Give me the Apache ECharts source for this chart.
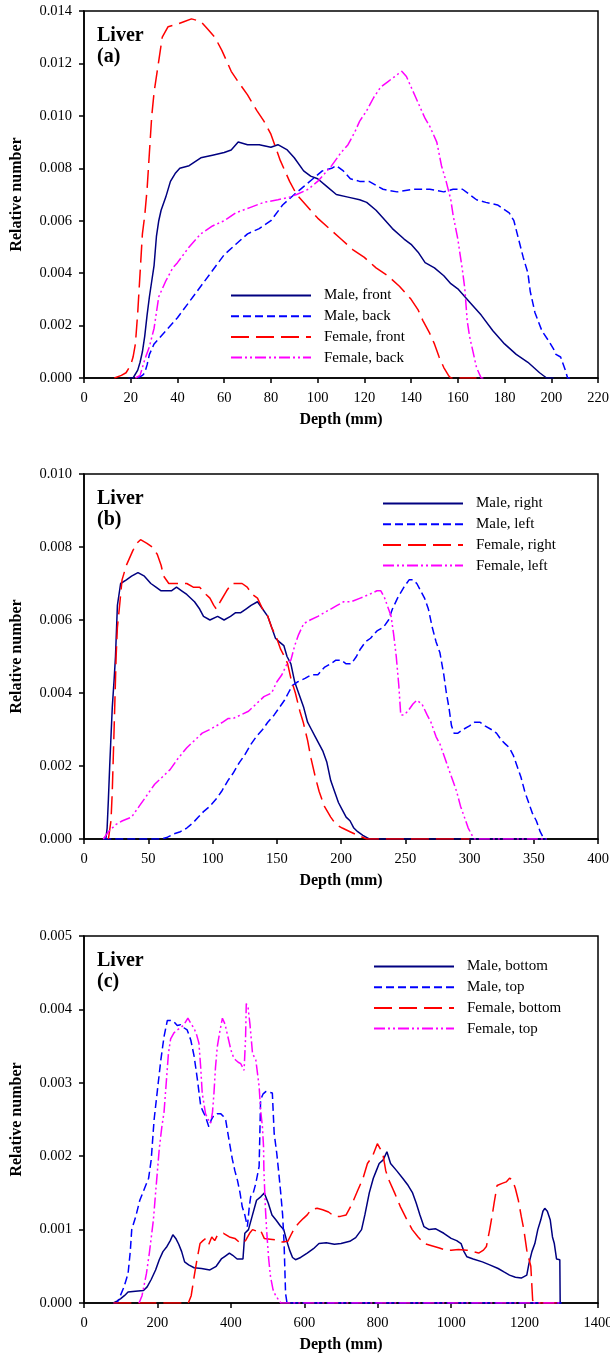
<!DOCTYPE html>
<html>
<head>
<meta charset="utf-8">
<script src="https://cdn.jsdelivr.net/npm/echarts@6/dist/echarts.min.js"></script>
<style>
  html, body { margin: 0; padding: 0; background: #fff; }
  #main { width: 610px; height: 1358px; }
</style>
</head>
<body>
<div id="main"></div>
<script>
// panel (a): front / back, depth in mm
const maleFrontA = [[19,0],[21,0],[23,0.0003],[24,0.0006],[25,0.001],[26,0.0016],[27,0.0024],[28,0.0031],[29,0.0037],[30,0.0043],[31,0.0054],[32,0.006],[33,0.0064],[35,0.0069],[37,0.0075],[39,0.0078],[41,0.008],[45,0.0081],[50,0.0084],[55,0.0085],[60,0.0086],[63,0.0087],[66,0.009],[70,0.0089],[75,0.0089],[80,0.0088],[83,0.0089],[87,0.0087],[90,0.0084],[94,0.0079],[97,0.0077],[100,0.0076],[104,0.0073],[108,0.007],[113,0.0069],[118,0.0068],[121,0.0067],[125,0.0064],[128,0.0061],[132,0.0057],[137,0.0053],[140,0.0051],[143,0.0048],[146,0.0044],[150,0.0042],[154,0.0039],[157,0.0036],[160,0.0034],[165,0.0029],[170,0.0024],[175,0.0018],[180,0.0013],[185,0.0009],[190,0.0006],[195,0.0002],[198,0],[201,0]];
const maleBackA = [[23,0],[25,0.0001],[26,0.0002],[27,0.0005],[28,0.0009],[30,0.0013],[35,0.0018],[40,0.0023],[45,0.0029],[50,0.0035],[55,0.0041],[60,0.0047],[65,0.0051],[70,0.0055],[75,0.0057],[80,0.006],[85,0.0066],[90,0.007],[94,0.0073],[98,0.0076],[102,0.0079],[106,0.008],[108,0.0081],[111,0.0079],[114,0.0076],[118,0.0075],[122,0.0075],[128,0.0072],[134,0.0071],[141,0.0072],[148,0.0072],[154,0.0071],[158,0.0072],[162,0.0072],[168,0.0068],[172,0.0067],[177,0.0066],[182,0.0063],[184,0.006],[186,0.0053],[188,0.0046],[190,0.004],[191,0.0033],[193,0.0025],[196,0.0018],[199,0.0014],[201,0.0011],[202,0.0009],[204,0.0008],[206,0.0003],[207,0],[208,0]];
const femaleFrontA = [[13,0],[16,0.0001],[18,0.0002],[20,0.0005],[21,0.0008],[22,0.0013],[23,0.0025],[24,0.004],[25,0.0055],[26,0.0062],[27,0.0072],[28,0.0086],[29,0.01],[30,0.0109],[32,0.0121],[33.5,0.013],[36,0.0134],[40,0.0135],[43,0.0136],[46,0.0137],[50,0.0136],[53,0.0133],[56,0.013],[59,0.0125],[63,0.0117],[66,0.0113],[70,0.0108],[74,0.0102],[77,0.0098],[80,0.0093],[82,0.0088],[84,0.0083],[86,0.0079],[88,0.0075],[91,0.007],[95,0.0066],[100,0.0061],[105,0.0057],[110,0.0053],[115,0.0049],[120,0.0046],[125,0.0042],[130,0.0039],[135,0.0035],[140,0.003],[143,0.0026],[145,0.0022],[148,0.0017],[150,0.0013],[152,0.0008],[154,0.0004],[156,0.0001],[157,0],[168,0]];
const femaleBackA = [[22,0],[24,0.0001],[26,0.0007],[28,0.0012],[30,0.0019],[32,0.0031],[35,0.0037],[38,0.0042],[40,0.0044],[45,0.005],[50,0.0055],[55,0.0058],[60,0.006],[65,0.0063],[71,0.0065],[77,0.0067],[83,0.0068],[88,0.0069],[91,0.007],[96,0.0072],[100,0.0075],[103,0.0078],[106,0.0081],[110,0.0086],[113,0.0089],[116,0.0094],[118,0.0098],[121,0.0102],[124,0.0107],[127,0.0111],[130,0.0113],[133,0.0115],[136,0.0117],[138,0.0115],[140,0.0111],[142,0.0107],[144,0.0103],[146,0.0099],[148,0.0096],[151,0.009],[153,0.0081],[155,0.0075],[157,0.0068],[158,0.0062],[160,0.0053],[161,0.0047],[162,0.0041],[163,0.0034],[164,0.0022],[165,0.0016],[166,0.0012],[168,0.0004],[170,0],[171,0]];

// panel (b): right / left
const maleRightB = [[17,0],[18,0.0003],[19,0.0011],[20,0.002],[21,0.0028],[22,0.0036],[23.5,0.0044],[24.5,0.005],[26,0.0064],[28.5,0.007],[33,0.0071],[37,0.0072],[42,0.0073],[47,0.0072],[52,0.007],[56,0.0069],[60,0.0068],[64,0.0068],[68,0.0068],[72,0.0069],[76,0.0068],[80,0.0067],[86,0.0065],[90,0.0063],[93,0.0061],[98,0.006],[104,0.0061],[109,0.006],[114,0.0061],[118,0.0062],[122,0.0062],[126,0.0063],[130,0.0064],[135,0.0065],[139,0.0063],[143,0.0061],[146,0.0058],[149,0.0055],[152,0.0054],[155.5,0.0053],[158,0.005],[161,0.0048],[164,0.0043],[167,0.004],[171,0.0036],[174,0.0032],[177,0.003],[180,0.0028],[183,0.0026],[186,0.0024],[189,0.0021],[192,0.0016],[195,0.0013],[198,0.001],[201,0.0008],[204,0.0006],[207,0.0005],[210,0.0003],[213,0.0002],[217,0.0001],[222,0],[360,0]];
const maleLeftB = [[15,0],[60,0],[65,0.00005],[70,0.00014],[75,0.0002],[80,0.0003],[85,0.00045],[89,0.0006],[93,0.00075],[98,0.0009],[103,0.0011],[107,0.0013],[112,0.0016],[116,0.0018],[121,0.0021],[125,0.0023],[130,0.0026],[134,0.0028],[139,0.003],[143,0.0032],[148,0.0034],[152,0.0036],[156,0.0038],[159,0.004],[162,0.0042],[166,0.0043],[172,0.0044],[177,0.0045],[182,0.0045],[187,0.0047],[192,0.0048],[196,0.0049],[200,0.0049],[204,0.0048],[208,0.0048],[212,0.005],[215,0.0052],[219,0.0054],[223,0.0055],[228,0.0057],[233,0.0058],[237,0.006],[240,0.0063],[244,0.0066],[249,0.0069],[253,0.0071],[256,0.0071],[259,0.007],[262,0.0068],[265,0.0066],[268,0.0063],[271,0.0058],[274,0.0054],[277,0.0051],[280,0.0045],[282,0.004],[284,0.0036],[286,0.0031],[288,0.0029],[291,0.0029],[295,0.003],[300,0.0031],[304,0.0032],[308,0.0032],[312,0.0031],[317,0.003],[321,0.0029],[325,0.0027],[328,0.0026],[331,0.0025],[334,0.0023],[337,0.002],[340,0.0017],[343,0.0013],[346,0.001],[349,0.0007],[352,0.0005],[355,0.0002],[358,0],[360,0]];
const femaleRightB = [[19,0],[21,0.0005],[22,0.0013],[23.5,0.0031],[25,0.005],[26,0.0058],[28,0.0065],[29.6,0.0071],[33,0.0075],[38,0.0079],[41,0.0081],[44,0.0082],[49,0.0081],[53,0.008],[57,0.0078],[60,0.0075],[62,0.0072],[66,0.007],[70,0.007],[75,0.007],[80,0.007],[85,0.0069],[90,0.0069],[95,0.0067],[98,0.0066],[101,0.0064],[103,0.0063],[106,0.0065],[111,0.0068],[115,0.007],[119,0.007],[123,0.007],[127,0.0069],[131,0.0067],[135,0.0066],[139,0.0063],[142,0.0062],[146,0.0058],[150,0.0055],[153,0.0052],[156,0.005],[158.5,0.0048],[161,0.0044],[164.5,0.004],[168,0.0035],[170.6,0.0032],[174,0.0027],[176.7,0.0022],[180,0.0017],[183,0.0013],[187,0.0009],[192,0.0006],[196,0.0004],[201,0.0003],[207,0.0002],[213,0.0001],[220,0],[300,0]];
const femaleLeftB = [[15,0],[17,0.0001],[19,0.0002],[22,0.0003],[25,0.0004],[30,0.0005],[37,0.0006],[43,0.0009],[49,0.0012],[55,0.0015],[61,0.0017],[67,0.0019],[73,0.0022],[80,0.0025],[86,0.0027],[92,0.0029],[98,0.003],[103,0.0031],[108,0.0032],[112,0.0033],[116,0.0033],[122,0.0034],[128,0.0035],[134,0.0037],[140,0.0039],[146,0.004],[150,0.0043],[154,0.0045],[158,0.0048],[161,0.0049],[164,0.0053],[167,0.0056],[171,0.0059],[176,0.006],[182,0.0061],[187,0.0062],[192,0.0063],[197,0.0064],[202,0.0065],[208,0.0065],[215,0.0066],[222,0.0067],[228,0.0068],[231,0.0068],[234,0.0066],[237,0.0063],[239,0.0061],[241,0.0056],[243,0.005],[245,0.0042],[246.5,0.0034],[249,0.0034],[252,0.0035],[256,0.0037],[259,0.0038],[263,0.0037],[267,0.0034],[270,0.0032],[274,0.0028],[277,0.0026],[280,0.0023],[284,0.0019],[287,0.0016],[290,0.0013],[293,0.0009],[296,0.0006],[299,0.0003],[302,0.0001],[304,0],[360,0]];

// panel (c): bottom / top
const maleBottomC = [[80,0],[88,0.00002],[100,0.00006],[110,0.0001],[120,0.00015],[140,0.00016],[162,0.00017],[172,0.00022],[183,0.00032],[195,0.00045],[205,0.00059],[215,0.0007],[226,0.00077],[235,0.00085],[242,0.00093],[250,0.00088],[258,0.0008],[266,0.0007],[274,0.00056],[285,0.00052],[300,0.00048],[320,0.00047],[343,0.00045],[360,0.0005],[374,0.0006],[385,0.00064],[396,0.00068],[405,0.00065],[417,0.0006],[433,0.0006],[438,0.00095],[448,0.001],[459,0.0012],[470,0.0014],[482,0.00145],[491,0.0015],[502,0.00136],[512,0.0012],[523,0.00113],[535,0.00105],[544,0.001],[552,0.00085],[560,0.00072],[568,0.00062],[576,0.00059],[590,0.00062],[608,0.00068],[625,0.00074],[640,0.00081],[660,0.00082],[682,0.0008],[700,0.00081],[724,0.00084],[740,0.00089],[756,0.001],[765,0.0012],[777,0.0015],[788,0.0017],[796,0.0018],[804,0.0019],[815,0.00195],[825,0.00206],[835,0.0019],[852,0.0018],[868,0.0017],[883,0.0016],[895,0.0015],[905,0.00136],[915,0.0012],[926,0.00104],[940,0.001],[958,0.00101],[980,0.00095],[1000,0.00088],[1015,0.00085],[1027,0.00081],[1035,0.0007],[1043,0.00063],[1060,0.0006],[1085,0.00056],[1105,0.00052],[1128,0.00047],[1145,0.00042],[1159,0.00038],[1175,0.00035],[1191,0.00034],[1206,0.00038],[1212,0.00054],[1220,0.0007],[1228,0.00081],[1236,0.001],[1244,0.00113],[1250,0.00125],[1255,0.00129],[1262,0.00125],[1270,0.00113],[1276,0.0009],[1281,0.00081],[1287,0.0006],[1292,0.00059],[1296,0.00059],[1297,0],[1302,0]];
const maleTopC = [[80,0],[90,0],[99,0.0001],[109,0.00022],[120,0.0004],[126,0.0007],[130,0.001],[141,0.00118],[152,0.0014],[160,0.0015],[168,0.0016],[176,0.0017],[183,0.00195],[191,0.0025],[200,0.0029],[209,0.0033],[218,0.00363],[227,0.00385],[236,0.00385],[245,0.00383],[254,0.00378],[263,0.00379],[272,0.00375],[281,0.00372],[286,0.00365],[291,0.00358],[300,0.00336],[309,0.00304],[318,0.00268],[325,0.0026],[331,0.00254],[340,0.0024],[347,0.0025],[354,0.00256],[363,0.00258],[372,0.00258],[380,0.00254],[386,0.00249],[395,0.00222],[404,0.00196],[411,0.0018],[418,0.00167],[425,0.0015],[431,0.00131],[438,0.0012],[445,0.00104],[450,0.0013],[454,0.00145],[461,0.0015],[468,0.00163],[477,0.00186],[481,0.00277],[488,0.00285],[495,0.00288],[505,0.00287],[513,0.00286],[518,0.00231],[525,0.00204],[531,0.00175],[536,0.00149],[541,0.0012],[545,0.00081],[549,0.00013],[553,0],[1300,0]];
const femaleBottomC = [[80,0],[284,0],[292,0.0001],[300,0.00036],[308,0.0006],[316,0.00081],[324,0.00085],[332,0.00088],[340,0.0008],[348,0.0009],[356,0.00085],[364,0.00093],[380,0.00095],[396,0.0009],[411,0.00088],[427,0.00081],[440,0.00085],[451,0.00095],[459,0.001],[470,0.00098],[480,0.001],[491,0.00088],[507,0.00087],[523,0.00086],[540,0.00083],[555,0.00084],[566,0.00095],[576,0.00104],[587,0.0011],[597,0.00115],[608,0.0012],[618,0.00127],[635,0.00129],[650,0.00127],[666,0.00124],[682,0.00118],[698,0.00118],[714,0.0012],[730,0.00135],[746,0.00154],[760,0.0017],[772,0.0019],[786,0.002],[799,0.00217],[807,0.0021],[815,0.002],[822,0.0018],[830,0.00168],[846,0.0015],[862,0.00131],[878,0.00115],[894,0.001],[910,0.0009],[926,0.00081],[947,0.00078],[968,0.00075],[985,0.00072],[1000,0.00072],[1020,0.00073],[1043,0.00072],[1060,0.0007],[1075,0.00068],[1088,0.00072],[1096,0.00077],[1105,0.001],[1112,0.0012],[1117,0.00136],[1125,0.0016],[1139,0.00163],[1150,0.00165],[1159,0.0017],[1167,0.00168],[1175,0.00156],[1183,0.0014],[1191,0.00118],[1198,0.001],[1206,0.00072],[1212,0.0006],[1217,0.0005],[1222,0.00004],[1226,0],[1300,0]];
const femaleTopC = [[150,0],[158,0.0001],[162,0.0002],[170,0.0004],[178,0.00068],[189,0.00113],[195,0.0015],[200,0.0018],[205,0.0021],[212,0.0024],[218,0.0026],[224,0.003],[230,0.0034],[236,0.0036],[245,0.00368],[254,0.00372],[263,0.00375],[272,0.00379],[283,0.00388],[292,0.0038],[300,0.00374],[307,0.00365],[313,0.00354],[318,0.0032],[322,0.00286],[331,0.00258],[338,0.0025],[345,0.00245],[350,0.0026],[354,0.00286],[358,0.0032],[363,0.00349],[370,0.0037],[377,0.00388],[384,0.0038],[390,0.00367],[400,0.00345],[407,0.00335],[413,0.00331],[420,0.00328],[427,0.00326],[436,0.00317],[440,0.0036],[442,0.00408],[447,0.00402],[452,0.0038],[459,0.0034],[468,0.00331],[477,0.00295],[481,0.00263],[486,0.0024],[489,0.00213],[490,0.00181],[494,0.0013],[498,0.00095],[503,0.0006],[508,0.00036],[515,0.00018],[522,0.0001],[536,0],[1300,0]];

const namesA = ['Male, front', 'Male, back', 'Female, front', 'Female, back'];
const namesB = ['Male, right', 'Male, left', 'Female, right', 'Female, left'];
const namesC = ['Male, bottom', 'Male, top', 'Female, bottom', 'Female, top'];
const panelLabels = ['(a)', '(b)', '(c)'];
const xMax = [220, 400, 1400];
const xStep = [20, 50, 200];
const yMax = [0.014, 0.010, 0.005];
const yStep = [0.002, 0.002, 0.001];

(() => {
  let myChart = echarts.init(document.getElementById('main'));

  const serif = 'Liberation Serif, Times New Roman, serif';
  const tops = [11, 474, 936];
  const heights = [367, 365, 367];

  // line look per curve: male solid/short dash, female long dash/dash-dot-dot
  const styles = [
    { color: '#000080', type: 'solid' },
    { color: '#0000ff', type: [8, 4] },
    { color: '#ff0000', type: [18, 7] },
    { color: '#ff00ff', type: [11, 3, 2, 3, 2, 3] }
  ];

  const panels = [
    { names: namesA, data: [maleFrontA, maleBackA, femaleFrontA, femaleBackA] },
    { names: namesB, data: [maleRightB, maleLeftB, femaleRightB, femaleLeftB] },
    { names: namesC, data: [maleBottomC, maleTopC, femaleBottomC, femaleTopC] }
  ];

  const grid = tops.map((t, i) => ({
    left: 84, top: t, width: 514, height: heights[i],
    outerBoundsMode: 'none',
    show: true, borderColor: '#000', borderWidth: 1.5, backgroundColor: 'transparent'
  }));

  const xAxis = tops.map((t, i) => ({
    type: 'value', gridIndex: i, min: 0, max: xMax[i], interval: xStep[i],
    name: 'Depth (mm)', nameLocation: 'middle', nameGap: 34,
    nameTextStyle: { fontFamily: serif, fontWeight: 'bold', fontSize: 16, color: '#000' },
    axisLine: { lineStyle: { color: '#000', width: 1.5 } },
    axisTick: { inside: false, length: 5, lineStyle: { color: '#000', width: 1.5 } },
    axisLabel: { fontFamily: serif, fontSize: 14.5, color: '#000', margin: 13,
      formatter: v => String(v) },
    splitLine: { show: false }
  }));

  const yAxis = tops.map((t, i) => ({
    type: 'value', gridIndex: i, min: 0, max: yMax[i], interval: yStep[i],
    name: 'Relative number', nameLocation: 'middle', nameGap: 59,
    nameTextStyle: { fontFamily: serif, fontWeight: 'bold', fontSize: 16, color: '#000' },
    axisLine: { lineStyle: { color: '#000', width: 1.5 } },
    axisTick: { inside: false, length: 5, lineStyle: { color: '#000', width: 1.5 } },
    axisLabel: { fontFamily: serif, fontSize: 14.5, color: '#000', margin: 12,
      formatter: v => v.toFixed(3) },
    splitLine: { show: false }
  }));

  const title = tops.map((t, i) => ({
    text: 'Liver\n' + panelLabels[i],
    left: 97, top: t + 14, padding: 0,
    textStyle: { fontFamily: serif, fontWeight: 'bold', fontSize: 20, lineHeight: 21, color: '#000' }
  }));

  const legendPos = [
    { left: 225, top: 283, names: namesA },
    { left: 377, top: 491, names: namesB },
    { left: 368, top: 954, names: namesC }
  ];
  const legend = legendPos.map(p => ({
    data: p.names, orient: 'vertical', left: p.left, top: p.top,
    itemWidth: 80, itemHeight: 14, itemGap: 5.7,
    selectedMode: false,
    itemStyle: { opacity: 0 },
    textStyle: { fontFamily: serif, fontSize: 15, color: '#000', padding: [0, 0, 0, 8] }
  }));

  const series = [];
  panels.forEach((p, i) => {
    p.data.forEach((d, k) => {
      series.push({
        type: 'line', name: p.names[k], xAxisIndex: i, yAxisIndex: i,
        data: d, symbol: 'none', showSymbol: false,
        itemStyle: { color: styles[k].color },
        lineStyle: { color: styles[k].color, width: 1.5, type: styles[k].type }
      });
    });
  });

  let option = {
    animation: false,
    backgroundColor: '#fff',
    title: title,
    legend: legend,
    grid: grid,
    xAxis: xAxis,
    yAxis: yAxis,
    series: series
  };

  myChart.setOption(option);
})();
</script>
</body>
</html>
